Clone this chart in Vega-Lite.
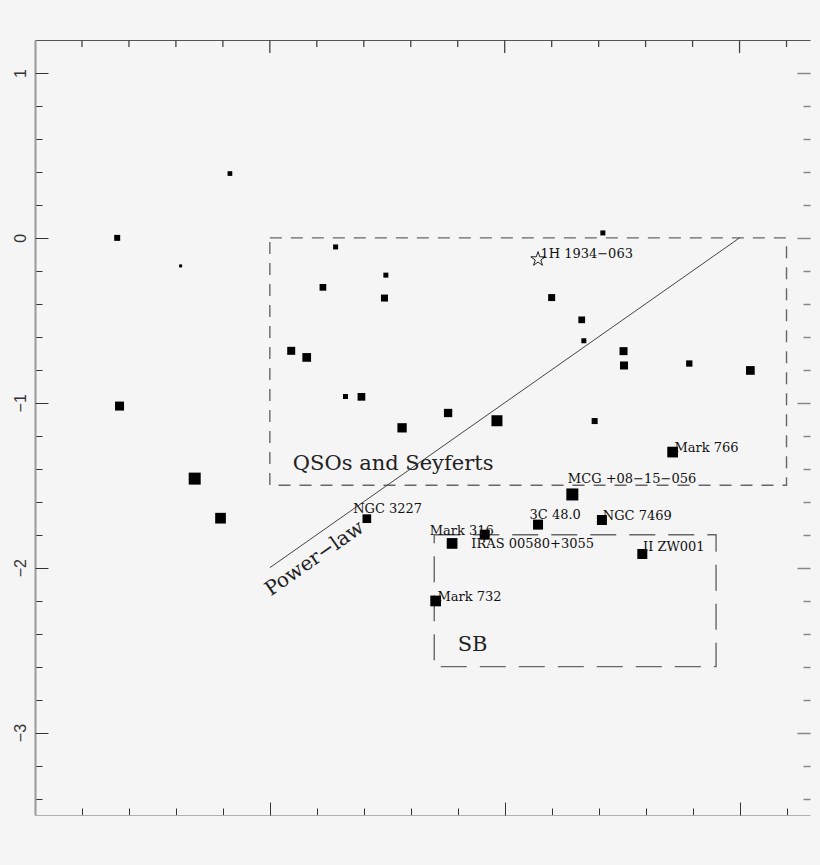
{
  "$schema": "https://vega.github.io/schema/vega-lite/v6.json",
  "width": 775,
  "height": 775,
  "autosize": "none",
  "padding": {"left": 35, "top": 40, "right": 10, "bottom": 50},
  "background": "#f5f5f5",
  "config": {"view": {"stroke": null}, "axis": {"grid": false, "title": null}},
  "resolve": {"axis": {"x": "independent", "y": "independent"}},
  "datasets": {
    "points": [
      {"x": -0.65, "y": 0.0, "w": 6},
      {"x": -0.17, "y": 0.39, "w": 4.7},
      {"x": -0.38, "y": -0.17, "w": 3},
      {"x": -0.64, "y": -1.02, "w": 9},
      {"x": -0.32, "y": -1.46, "w": 12},
      {"x": -0.21, "y": -1.70, "w": 10.7},
      {"x": 0.28, "y": -0.055, "w": 5},
      {"x": 0.226, "y": -0.30, "w": 6.7},
      {"x": 0.494, "y": -0.226, "w": 5},
      {"x": 0.488, "y": -0.365, "w": 7},
      {"x": 0.091, "y": -0.685, "w": 8},
      {"x": 0.157, "y": -0.725, "w": 8.7},
      {"x": 0.322, "y": -0.962, "w": 5},
      {"x": 0.39, "y": -0.964, "w": 7.7},
      {"x": 0.563, "y": -1.152, "w": 9.3},
      {"x": 0.759, "y": -1.062, "w": 8.3},
      {"x": 0.967, "y": -1.109, "w": 11},
      {"x": 1.418, "y": 0.03, "w": 5},
      {"x": 1.2, "y": -0.362, "w": 7},
      {"x": 1.328, "y": -0.497, "w": 6.7},
      {"x": 1.337, "y": -0.624, "w": 5},
      {"x": 1.506, "y": -0.687, "w": 8},
      {"x": 1.508, "y": -0.774, "w": 8},
      {"x": 1.786, "y": -0.762, "w": 6.3},
      {"x": 2.046, "y": -0.804, "w": 8.7},
      {"x": 1.383, "y": -1.111, "w": 6},
      {"x": 1.715, "y": -1.299, "w": 10.7},
      {"x": 1.288, "y": -1.556, "w": 12},
      {"x": 0.413, "y": -1.703, "w": 8.7},
      {"x": 0.776, "y": -1.853, "w": 10.7},
      {"x": 0.915, "y": -1.80, "w": 10},
      {"x": 1.142, "y": -1.739, "w": 10},
      {"x": 1.414, "y": -1.711, "w": 10},
      {"x": 1.586, "y": -1.917, "w": 10},
      {"x": 0.706, "y": -2.202, "w": 10.7}
    ],
    "star": [{"x": 1.142, "y": -0.129, "name": "1H 1934−063"}],
    "qso": [{"x": 0, "x2": 2.2, "y": 0, "y2": -1.5}],
    "sb": [{"x": 0.7, "x2": 1.9, "y": -1.8, "y2": -2.6}],
    "powerlaw": [{"x": 0, "y": -2}, {"x": 2, "y": 0}],
    "topminor": [
      {"x": -0.8}, {"x": -0.6}, {"x": -0.4}, {"x": -0.2}, {"x": 0.2}, {"x": 0.4}, {"x": 0.6},
      {"x": 0.8}, {"x": 1.2}, {"x": 1.4}, {"x": 1.6}, {"x": 1.8}, {"x": 2.2}
    ],
    "topmajor": [{"x": 0}, {"x": 1}, {"x": 2}],
    "pointlabels": [
      {"x": 1.152, "y": -0.123, "text": "1H 1934−063"},
      {"x": 1.723, "y": -1.299, "text": "Mark 766"},
      {"x": 1.269, "y": -1.487, "text": "MCG +08−15−056"},
      {"x": 0.355, "y": -1.668, "text": "NGC 3227"},
      {"x": 0.681, "y": -1.804, "text": "Mark 316"},
      {"x": 0.858, "y": -1.881, "text": "IRAS 00580+3055"},
      {"x": 1.106, "y": -1.705, "text": "3C 48.0"},
      {"x": 1.418, "y": -1.713, "text": "NGC 7469"},
      {"x": 1.589, "y": -1.9, "text": "II ZW001"},
      {"x": 0.714, "y": -2.204, "text": "Mark 732"}
    ],
    "regions": [
      {"x": 0.098, "y": -1.406, "text": "QSOs and Seyferts"},
      {"x": 0.8, "y": -2.506, "text": "SB"}
    ],
    "lawlabel": [{"x": 0.19, "y": -1.945, "text": "Power−law"}]
  },
  "layer": [
    {
      "data": {"name": "qso"},
      "mark": {"type": "rect", "fill": null, "filled": false, "stroke": "#666666", "strokeWidth": 1.4, "strokeDash": [12, 9]},
      "encoding": {
        "x": {
          "field": "x", "type": "quantitative",
          "scale": {"domain": [-1, 2.3], "nice": false, "zero": false},
          "axis": {
            "orient": "bottom", "title": null, "labels": false,
            "values": [-0.8, -0.6, -0.4, -0.2, 0.2, 0.4, 0.6, 0.8, 1.2, 1.4, 1.6, 1.8, 2.2],
            "domainColor": "#b0b0b0", "domainWidth": 1,
            "tickColor": "#333333", "tickWidth": 1, "tickSize": -7
          }
        },
        "x2": {"field": "x2"},
        "y": {
          "field": "y", "type": "quantitative",
          "scale": {"domain": [-3.5, 1.2], "nice": false, "zero": false},
          "axis": {
            "orient": "left", "title": null, "labels": false,
            "values": [-3.4, -3.2, -2.8, -2.6, -2.4, -2.2, -1.8, -1.6, -1.4, -1.2, -0.8, -0.6, -0.4, -0.2, 0.2, 0.4, 0.6, 0.8],
            "domainColor": "#999999", "domainWidth": 2,
            "tickColor": "#333333", "tickWidth": 1, "tickSize": -7
          }
        },
        "y2": {"field": "y2"}
      }
    },
    {
      "data": {"name": "sb"},
      "mark": {"type": "rect", "fill": null, "filled": false, "stroke": "#666666", "strokeWidth": 1.4, "strokeDash": [26, 13]},
      "encoding": {
        "x": {
          "field": "x", "type": "quantitative",
          "scale": {"domain": [-1, 2.3], "nice": false, "zero": false},
          "axis": {
            "orient": "bottom", "title": null, "labels": false, "domain": false,
            "values": [0, 1, 2],
            "tickColor": "#333333", "tickWidth": 1, "tickSize": -13
          }
        },
        "x2": {"field": "x2"},
        "y": {
          "field": "y", "type": "quantitative",
          "scale": {"domain": [-3.5, 1.2], "nice": false, "zero": false},
          "axis": {
            "orient": "left", "title": null, "labels": false, "domain": false,
            "values": [-3, -2, -1, 0, 1],
            "tickColor": "#333333", "tickWidth": 1, "tickSize": -13
          }
        },
        "y2": {"field": "y2"}
      }
    },
    {
      "data": {"name": "powerlaw"},
      "mark": {"type": "line", "color": "#444444", "strokeWidth": 1},
      "encoding": {
        "x": {"field": "x", "type": "quantitative", "scale": {"domain": [-1, 2.3], "nice": false, "zero": false}, "axis": null},
        "y": {
          "field": "y", "type": "quantitative",
          "scale": {"domain": [-3.5, 1.2], "nice": false, "zero": false},
          "axis": {
            "orient": "right", "title": null, "labels": false, "domain": false,
            "values": [-3.4, -3.2, -2.8, -2.6, -2.4, -2.2, -1.8, -1.6, -1.4, -1.2, -0.8, -0.6, -0.4, -0.2, 0.2, 0.4, 0.6, 0.8],
            "tickColor": "#888888", "tickWidth": 1.5, "tickSize": -7
          }
        }
      }
    },
    {
      "data": {"name": "points"},
      "mark": {"type": "point", "shape": "square", "filled": true, "color": "#000000", "opacity": 1, "strokeWidth": 0},
      "encoding": {
        "x": {"field": "x", "type": "quantitative", "scale": {"domain": [-1, 2.3], "nice": false, "zero": false}, "axis": null},
        "y": {
          "field": "y", "type": "quantitative",
          "scale": {"domain": [-3.5, 1.2], "nice": false, "zero": false},
          "axis": {
            "orient": "right", "title": null, "labels": false, "domain": false,
            "values": [-3, -2, -1, 0, 1],
            "tickColor": "#888888", "tickWidth": 1.5, "tickSize": -13
          }
        },
        "size": {"field": "w", "type": "quantitative", "scale": {"type": "pow", "exponent": 2, "domain": [0, 12], "range": [0, 144]}, "legend": null}
      }
    },
    {
      "data": {"name": "star"},
      "mark": {"type": "point", "shape": "M0,-1L0.225,-0.309L0.951,-0.309L0.363,0.118L0.588,0.809L0,0.382L-0.588,0.809L-0.363,0.118L-0.951,-0.309L-0.225,-0.309Z", "filled": false, "stroke": "#222222", "strokeWidth": 1, "size": 230, "opacity": 1},
      "encoding": {
        "x": {
          "field": "x", "type": "quantitative",
          "scale": {"domain": [-1, 2.3], "nice": false, "zero": false},
          "axis": {
            "orient": "top", "title": null, "labels": false, "ticks": false,
            "domainColor": "#555555", "domainWidth": 1.2
          }
        },
        "y": {
          "field": "y", "type": "quantitative",
          "scale": {"domain": [-3.5, 1.2], "nice": false, "zero": false},
          "axis": {
            "orient": "left", "title": null, "ticks": false, "domain": false,
            "values": [-3, -2, -1, 0, 1], "format": "d",
            "labelAngle": -90, "labelAlign": "center", "labelBaseline": "alphabetic",
            "labelFont": "Liberation Sans", "labelFontSize": 16, "labelColor": "#333333",
            "labelPadding": 10
          }
        }
      }
    },
    {
      "data": {"name": "topminor"},
      "mark": {"type": "tick", "orient": "vertical", "size": 7, "thickness": 1.3, "color": "#444444", "opacity": 1, "yOffset": 3.5},
      "encoding": {
        "x": {"field": "x", "type": "quantitative", "scale": {"domain": [-1, 2.3], "nice": false, "zero": false}, "axis": null},
        "y": {"datum": 1.2, "type": "quantitative", "scale": {"domain": [-3.5, 1.2], "nice": false, "zero": false}, "axis": null}
      }
    },
    {
      "data": {"name": "topmajor"},
      "mark": {"type": "tick", "orient": "vertical", "size": 13, "thickness": 1.3, "color": "#444444", "opacity": 1, "yOffset": 6.5},
      "encoding": {
        "x": {"field": "x", "type": "quantitative", "scale": {"domain": [-1, 2.3], "nice": false, "zero": false}, "axis": null},
        "y": {"datum": 1.2, "type": "quantitative", "scale": {"domain": [-3.5, 1.2], "nice": false, "zero": false}, "axis": null}
      }
    },
    {
      "data": {"name": "pointlabels"},
      "mark": {"type": "text", "font": "DejaVu Serif", "fontSize": 13, "align": "left", "baseline": "alphabetic", "color": "#111111"},
      "encoding": {
        "x": {"field": "x", "type": "quantitative", "scale": {"domain": [-1, 2.3], "nice": false, "zero": false}, "axis": null},
        "y": {"field": "y", "type": "quantitative", "scale": {"domain": [-3.5, 1.2], "nice": false, "zero": false}, "axis": null},
        "text": {"field": "text"}
      }
    },
    {
      "data": {"name": "regions"},
      "mark": {"type": "text", "font": "DejaVu Serif", "fontSize": 21, "align": "left", "baseline": "alphabetic", "color": "#222222"},
      "encoding": {
        "x": {"field": "x", "type": "quantitative", "scale": {"domain": [-1, 2.3], "nice": false, "zero": false}, "axis": null},
        "y": {"field": "y", "type": "quantitative", "scale": {"domain": [-3.5, 1.2], "nice": false, "zero": false}, "axis": null},
        "text": {"field": "text"}
      }
    },
    {
      "data": {"name": "lawlabel"},
      "mark": {"type": "text", "font": "DejaVu Serif", "fontSize": 20, "align": "center", "baseline": "middle", "angle": -35, "color": "#222222"},
      "encoding": {
        "x": {"field": "x", "type": "quantitative", "scale": {"domain": [-1, 2.3], "nice": false, "zero": false}, "axis": null},
        "y": {"field": "y", "type": "quantitative", "scale": {"domain": [-3.5, 1.2], "nice": false, "zero": false}, "axis": null},
        "text": {"field": "text"}
      }
    }
  ]
}
